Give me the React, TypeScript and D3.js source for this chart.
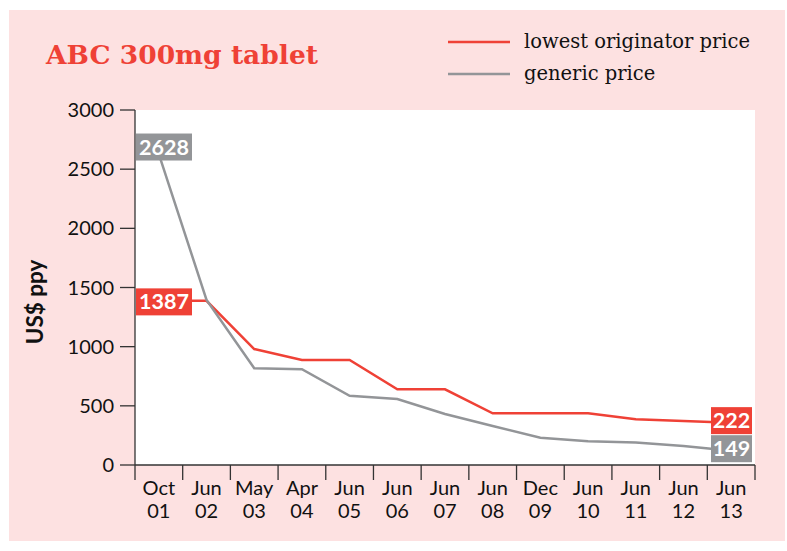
import React from 'react'
import * as d3 from 'd3'

const months = ['Oct', 'Jun', 'May', 'Apr', 'Jun', 'Jun', 'Jun', 'Jun', 'Dec', 'Jun', 'Jun', 'Jun', 'Jun']
const years = ['01', '02', '03', '04', '05', '06', '07', '08', '09', '10', '11', '12', '13']
const originator = [1387, 1387, 980, 887, 887, 640, 640, 437, 437, 437, 386, 372, 358]
const generic = [2628, 1395, 817, 809, 585, 558, 431, 330, 231, 200, 190, 160, 121]
const yTicks = [0, 500, 1000, 1500, 2000, 2500, 3000]
// value labels shown at the ends of the lines
const startLabels = ['1387', '2628']
const endLabels = ['222', '149']

const RED = '#ef4136'
const GREY = '#939598'
const PINK = '#fde1e1'
const sans = 'Lato, "Open Sans", sans-serif'
const serif = '"DejaVu Serif", serif'

const App = () => {
  const W = 787
  const H = 551
  const margin = { top: 110, right: 32, bottom: 86, left: 135 }

  const idx = d3.range(months.length)
  const x = d3.scaleBand<number>().domain(idx).range([margin.left, W - margin.right])
  const y = d3.scaleLinear().domain([0, 3000]).range([H - margin.bottom, margin.top])
  const cx = (i: number) => (x(i) as number) + x.bandwidth() / 2

  const line = d3.line<number>().x((d, i) => cx(i)).y((d) => y(d))

  const x0 = margin.left
  const x1 = W - margin.right
  const y0 = y(0)

  const series = [
    { values: originator, color: RED, start: startLabels[0], end: endLabels[0] },
    { values: generic, color: GREY, start: startLabels[1], end: endLabels[1] },
  ]

  const labelBox = (text: string, vy: number, color: string, side: 'start' | 'end') => {
    const w = text.length * 15 - 4
    const h = 27
    const bx = side === 'start' ? x0 + 1 : x1 - 3 - w
    const by = vy - h / 2 - (side === 'start' && vy < 200 ? 7 : side === 'end' ? 2 : -1)
    return (
      <g key={text}>
        <rect x={bx} y={by} width={w} height={h} fill={color} />
        <text x={bx + w / 2} y={by + h / 2 + 7.5} textAnchor="middle" fill="#fff"
          fontFamily={sans} fontWeight={700} fontSize={21.5}>{text}</text>
      </g>
    )
  }

  return (
    <svg width={W} height={H} style={{ position: 'absolute', left: 0, top: 0 }}>
      <rect x={9} y={10} width={776} height={531} fill={PINK} />
      <rect x={x0} y={margin.top} width={x1 - x0} height={y0 - margin.top} fill="#fff" />

      <text x={46} y={64} fill={RED} fontFamily={serif} fontWeight={700} fontSize={26.5}>
        ABC 300mg tablet
      </text>

      <g fontFamily={serif} fontSize={19.5} fill="#111">
        <line x1={448} x2={510} y1={42} y2={42} stroke={RED} strokeWidth={2.5} />
        <text x={524} y={48}>lowest originator price</text>
        <line x1={448} x2={510} y1={74} y2={74} stroke={GREY} strokeWidth={2.5} />
        <text x={524} y={80}>generic price</text>
      </g>

      {/* y axis */}
      <line x1={x0} x2={x0} y1={margin.top} y2={y0} stroke="#333" strokeWidth={1.3} />
      {yTicks.map((t) => (
        <g key={t}>
          <line x1={x0 - 15} x2={x0} y1={y(t)} y2={y(t)} stroke="#333" strokeWidth={1.3} />
          <text x={x0 - 21} y={y(t) + 7} textAnchor="end" fontFamily={sans} fontSize={20} fill="#111">{t}</text>
        </g>
      ))}
      <text transform={`translate(43,302) rotate(-90)`} textAnchor="middle" fontFamily={sans}
        fontWeight={700} fontSize={22.5} fill="#111">US$ ppy</text>

      {/* x axis */}
      <line x1={x0} x2={x1} y1={y0} y2={y0} stroke="#333" strokeWidth={1.3} />
      {[...idx, months.length].map((i) => {
        const tx = i < months.length ? (x(i) as number) : x1
        return <line key={i} x1={tx} x2={tx} y1={y0} y2={y0 + 15} stroke="#333" strokeWidth={1.3} />
      })}
      {idx.map((i) => (
        <text key={i} x={cx(i)} textAnchor="middle" fontFamily={sans} fontSize={20} fill="#111">
          <tspan x={cx(i)} y={y0 + 30}>{months[i]}</tspan>
          <tspan x={cx(i)} y={y0 + 53}>{years[i]}</tspan>
        </text>
      ))}

      {series.map((s) => (
        <path key={s.color} d={line(s.values) as string} fill="none" stroke={s.color} strokeWidth={2.5} />
      ))}
      {series.map((s) => labelBox(s.start, y(s.values[0]), s.color, 'start'))}
      {series.map((s) => labelBox(s.end, y(s.values[s.values.length - 1]), s.color, 'end'))}
    </svg>
  )
}

export default App
